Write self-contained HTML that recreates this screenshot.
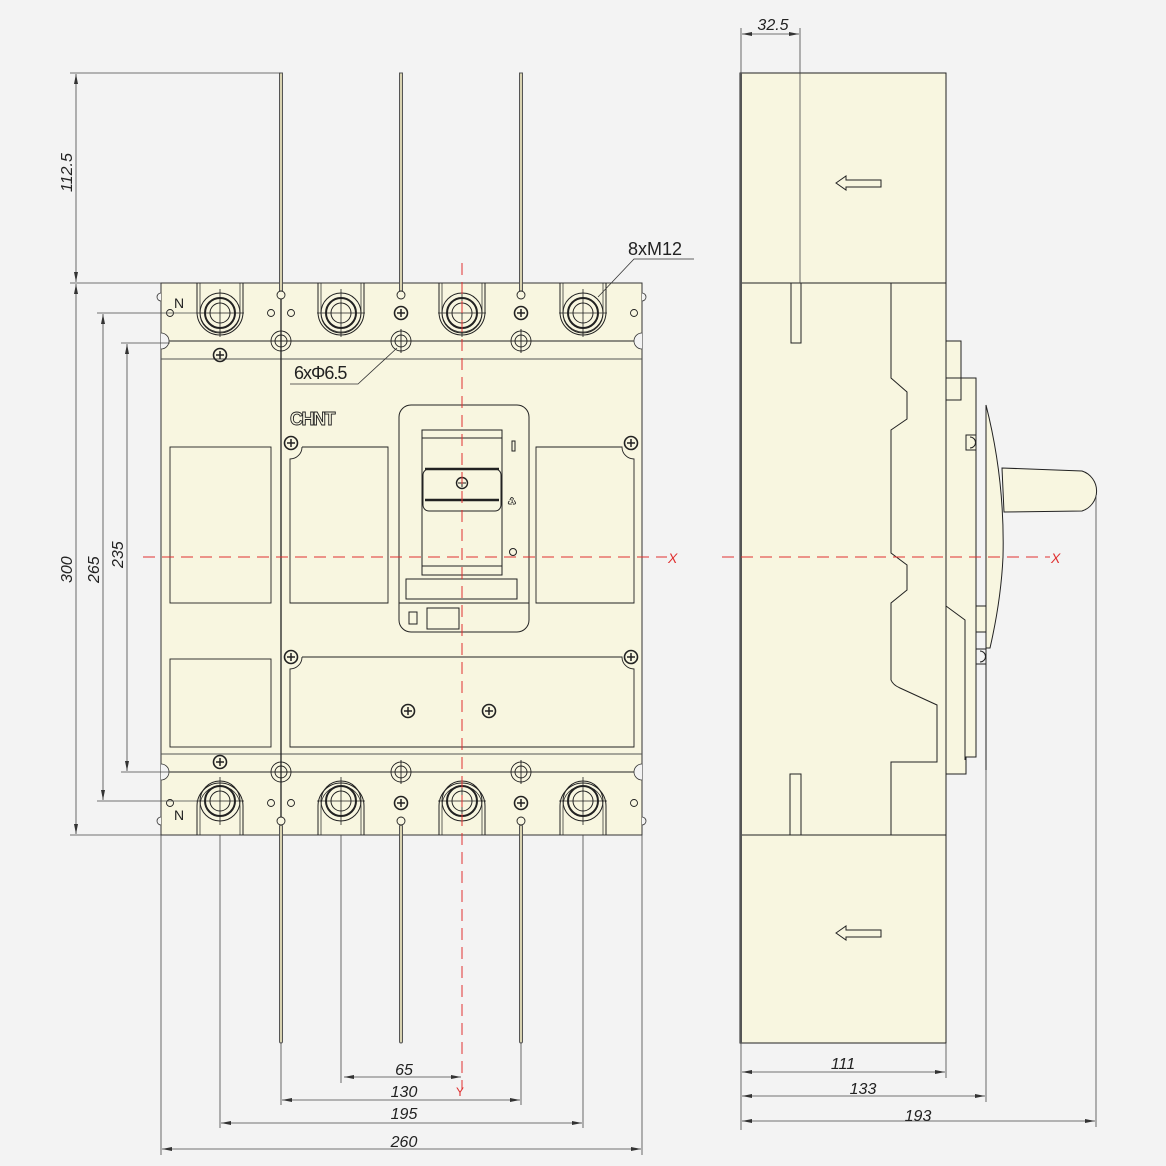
<!DOCTYPE html>
<html><head><meta charset="utf-8"><style>
html,body{margin:0;padding:0;background:#f3f3f3;}
svg{display:block;font-family:"Liberation Sans",sans-serif;}
</style></head><body>
<svg width="1166" height="1166" viewBox="0 0 1166 1166" xmlns="http://www.w3.org/2000/svg">
<defs>
<marker id="ar" viewBox="0 0 10 6" refX="10" refY="3" markerWidth="10" markerHeight="6" orient="auto-start-reverse" markerUnits="userSpaceOnUse"><path d="M0,1 L10,3 L0,5 Z" fill="#333"/></marker>
<g id="nut" fill="none" stroke="#222">
 <circle r="20" stroke-width="1"/>
 <circle r="15" stroke-width="2"/>
 <circle r="10" stroke-width="1"/>
 <line x1="-24" y1="0" x2="24" y2="0" stroke-width="0.8"/>
 <line x1="0" y1="-24" x2="0" y2="24" stroke-width="0.8"/>
</g>
<g id="mh" fill="none" stroke="#222" stroke-width="0.9">
 <circle r="10"/><circle r="6"/>
 <line x1="0" y1="-12" x2="0" y2="12"/>
</g>
<g id="sc" fill="none" stroke="#222">
 <circle r="6.5" stroke-width="1.6"/>
 <path d="M-4,0 H4 M0,-4 V4" stroke-width="1.5"/>
</g>
</defs>

<!-- ===== FRONT VIEW ===== -->
<rect x="161" y="283" width="481" height="552" fill="#f8f6e0" stroke="#333" stroke-width="1"/>
<line x1="161" y1="341" x2="642" y2="341" stroke="#222" stroke-width="1"/>
<line x1="161" y1="359" x2="642" y2="359" stroke="#555" stroke-width="1"/>
<line x1="161" y1="772" x2="642" y2="772" stroke="#222" stroke-width="1"/>
<line x1="161" y1="754" x2="642" y2="754" stroke="#555" stroke-width="1"/>
<line x1="281" y1="283" x2="281" y2="835" stroke="#222" stroke-width="1.3"/>
<g fill="#f3f3f3" stroke="#333" stroke-width="0.8">
<path d="M161,293 a4,4 0 0 0 0,8"/><path d="M642,293 a4,4 0 0 1 0,8"/>
<path d="M161,333 a8,8 0 0 1 0,16"/><path d="M642,333 a8,8 0 0 0 0,16"/>
<path d="M161,764 a8,8 0 0 1 0,16"/><path d="M642,764 a8,8 0 0 0 0,16"/>
<path d="M161,817 a4,4 0 0 0 0,8"/><path d="M642,817 a4,4 0 0 1 0,8"/>
</g>
<g fill="none" stroke="#222">
<path d="M197,283 V312 A23,23 0 0 0 243,312 V283" stroke-width="1"/><path d="M200,283 V312 A20,20 0 0 0 240,312 V283" stroke-width="0.7"/>
<path d="M318,283 V312 A23,23 0 0 0 364,312 V283" stroke-width="1"/><path d="M321,283 V312 A20,20 0 0 0 361,312 V283" stroke-width="0.7"/>
<path d="M439,283 V312 A23,23 0 0 0 485,312 V283" stroke-width="1"/><path d="M442,283 V312 A20,20 0 0 0 482,312 V283" stroke-width="0.7"/>
<path d="M560,283 V312 A23,23 0 0 0 606,312 V283" stroke-width="1"/><path d="M563,283 V312 A20,20 0 0 0 603,312 V283" stroke-width="0.7"/>
<path d="M197,835 V806 A23,23 0 0 1 243,806 V835" stroke-width="1"/><path d="M200,835 V806 A20,20 0 0 1 240,806 V835" stroke-width="0.7"/>
<path d="M318,835 V806 A23,23 0 0 1 364,806 V835" stroke-width="1"/><path d="M321,835 V806 A20,20 0 0 1 361,806 V835" stroke-width="0.7"/>
<path d="M439,835 V806 A23,23 0 0 1 485,806 V835" stroke-width="1"/><path d="M442,835 V806 A20,20 0 0 1 482,806 V835" stroke-width="0.7"/>
<path d="M560,835 V806 A23,23 0 0 1 606,806 V835" stroke-width="1"/><path d="M563,835 V806 A20,20 0 0 1 603,806 V835" stroke-width="0.7"/>
</g>
<use href="#nut" x="220" y="313"/><use href="#nut" x="341" y="313"/><use href="#nut" x="462" y="313"/><use href="#nut" x="583" y="313"/>
<use href="#nut" x="220" y="801"/><use href="#nut" x="341" y="801"/><use href="#nut" x="462" y="801"/><use href="#nut" x="583" y="801"/>
<use href="#mh" x="281" y="341"/><use href="#mh" x="401" y="341"/><use href="#mh" x="521" y="341"/>
<use href="#mh" x="281" y="772"/><use href="#mh" x="401" y="772"/><use href="#mh" x="521" y="772"/>
<use href="#sc" x="401" y="313"/><use href="#sc" x="521" y="313"/><use href="#sc" x="401" y="803"/><use href="#sc" x="521" y="803"/>
<use href="#sc" x="220" y="355"/><use href="#sc" x="220" y="762"/>
<use href="#sc" x="291" y="443"/><use href="#sc" x="631" y="443"/><use href="#sc" x="291" y="657"/><use href="#sc" x="631" y="657"/>
<use href="#sc" x="408" y="711"/><use href="#sc" x="489" y="711"/>
<g fill="none" stroke="#222" stroke-width="0.9">
<circle cx="170" cy="313" r="3.5"/><circle cx="271" cy="313" r="3.5"/><circle cx="291" cy="313" r="3.5"/><circle cx="634" cy="313" r="3.5"/>
<circle cx="170" cy="803" r="3.5"/><circle cx="271" cy="803" r="3.5"/><circle cx="291" cy="803" r="3.5"/><circle cx="634" cy="803" r="3.5"/>
</g>
<g stroke="#555" stroke-width="1" fill="#d8d2b0">
<rect x="279.5" y="73" width="3" height="218"/><rect x="399.5" y="73" width="3" height="218"/><rect x="519.5" y="73" width="3" height="218"/>
<rect x="279.5" y="825" width="3" height="218" rx="1.5"/><rect x="399.5" y="825" width="3" height="218" rx="1.5"/><rect x="519.5" y="825" width="3" height="218" rx="1.5"/>
</g>
<g fill="#f8f6e0" stroke="#222" stroke-width="0.9">
<circle cx="281" cy="295" r="4"/><circle cx="401" cy="295" r="4"/><circle cx="521" cy="295" r="4"/>
<circle cx="281" cy="821" r="4"/><circle cx="401" cy="821" r="4"/><circle cx="521" cy="821" r="4"/>
</g>
<text x="174" y="308" font-size="14" fill="#222">N</text>
<text x="174" y="820" font-size="14" fill="#222">N</text>
<g fill="none" stroke="#222" stroke-width="0.9">
<rect x="170" y="447" width="101" height="156"/>
<rect x="170" y="659" width="101" height="88"/>
<path d="M302,447 H388 V603 H290 V459 A12,12 0 0 0 302,447"/>
<path d="M536,447 H622 A12,12 0 0 0 634,459 V603 H536 Z"/>
<path d="M302,657 H622 A12,12 0 0 0 634,669 V747 H290 V669 A12,12 0 0 0 302,657"/>
</g>
<text x="290" y="425" font-size="18" font-weight="bold" fill="#f8f6e0" stroke="#222" stroke-width="0.9" letter-spacing="-1.5">CHNT</text>
<g fill="none" stroke="#222" stroke-width="1">
<rect x="399" y="405" width="130" height="227" rx="12"/>
<rect x="422" y="430" width="80" height="145"/>
<line x1="422" y1="438" x2="502" y2="438"/>
<line x1="422" y1="566" x2="502" y2="566"/>
<rect x="423" y="469" width="78" height="42" rx="6"/>
<line x1="425" y1="469" x2="499" y2="469" stroke-width="2.5"/>
<line x1="425" y1="500" x2="499" y2="500" stroke-width="2.5"/>
<rect x="406" y="579" width="111" height="20"/>
<line x1="399" y1="603" x2="529" y2="603"/>
<rect x="427" y="608" width="32" height="21"/>
<rect x="409" y="612" width="8" height="12"/>
<rect x="512" y="441" width="3" height="10"/>
<circle cx="513" cy="552" r="3.5"/>
<circle cx="462" cy="483" r="5.5" stroke-width="1.4"/>
<path d="M458,483 H466 M462,479 V487"/>
</g>
<text x="507" y="505" font-size="11" fill="#222">&#x2673;</text>
<line x1="462" y1="263" x2="462" y2="1090" stroke="#e03030" stroke-width="1" stroke-dasharray="12,7"/>
<line x1="143" y1="557" x2="667" y2="557" stroke="#e03030" stroke-width="1" stroke-dasharray="12,7"/>
<text x="668" y="563" font-size="14" font-style="italic" fill="#e03030">X</text>
<text x="456" y="1096" font-size="12" fill="#e03030">Y</text>
<text x="628" y="255" font-size="18" fill="#222">8xM12</text>
<polyline points="694,259 634,259 598,297" fill="none" stroke="#333" stroke-width="0.8"/>
<text x="294" y="379" font-size="18" fill="#222" letter-spacing="-1">6xΦ6.5</text>
<polyline points="290,384 358,384 397,348" fill="none" stroke="#333" stroke-width="0.8"/>

<g stroke="#444" stroke-width="0.8" fill="none">
<line x1="70" y1="73" x2="281" y2="73"/>
<line x1="70" y1="283" x2="161" y2="283"/>
<line x1="70" y1="835" x2="161" y2="835"/>
<line x1="97" y1="313" x2="200" y2="313"/>
<line x1="97" y1="801" x2="200" y2="801"/>
<line x1="121" y1="343" x2="170" y2="343"/>
<line x1="121" y1="772" x2="170" y2="772"/>
<line x1="76" y1="74" x2="76" y2="282" marker-start="url(#ar)" marker-end="url(#ar)"/>
<line x1="76" y1="284" x2="76" y2="834" marker-start="url(#ar)" marker-end="url(#ar)"/>
<line x1="103" y1="314" x2="103" y2="800" marker-start="url(#ar)" marker-end="url(#ar)"/>
<line x1="127" y1="344" x2="127" y2="771" marker-start="url(#ar)" marker-end="url(#ar)"/>
</g>
<g font-size="16" font-style="italic" fill="#222">
<text transform="translate(72,192) rotate(-90)">112.5</text>
<text transform="translate(72,583) rotate(-90)">300</text>
<text transform="translate(99,583) rotate(-90)">265</text>
<text transform="translate(123,568) rotate(-90)">235</text>
</g>
<g stroke="#444" stroke-width="0.8" fill="none">
<line x1="161" y1="835" x2="161" y2="1155"/>
<line x1="642" y1="835" x2="642" y2="1155"/>
<line x1="220" y1="835" x2="220" y2="1128"/>
<line x1="583" y1="835" x2="583" y2="1128"/>
<line x1="281" y1="1043" x2="281" y2="1105"/>
<line x1="521" y1="1043" x2="521" y2="1105"/>
<line x1="341" y1="835" x2="341" y2="1083"/>
<line x1="344" y1="1077" x2="461" y2="1077" marker-start="url(#ar)" marker-end="url(#ar)"/>
<line x1="282" y1="1100" x2="520" y2="1100" marker-start="url(#ar)" marker-end="url(#ar)"/>
<line x1="221" y1="1123" x2="582" y2="1123" marker-start="url(#ar)" marker-end="url(#ar)"/>
<line x1="162" y1="1149" x2="641" y2="1149" marker-start="url(#ar)" marker-end="url(#ar)"/>
</g>
<g font-size="16" font-style="italic" fill="#222" text-anchor="middle">
<text x="404" y="1075">65</text>
<text x="404" y="1097">130</text>
<text x="404" y="1119">195</text>
<text x="404" y="1147">260</text>
</g>

<!-- ===== SIDE VIEW ===== -->
<g stroke="#222" stroke-width="1" fill="#f8f6e0">
<rect x="740" y="73" width="206" height="970"/>
<path d="M946,341 H961 V378 H976 V757 H966 V774 H946 Z"/>
<rect x="946" y="378" width="15" height="22" fill="none"/>
<path d="M986,405 Q1005,480 1003,557 Q1001,600 990,648 L986,648 Z"/>
<path d="M1002,468 L1082,471 A21,21 0 0 1 1082,511 L1004,512 Z"/>
<rect x="976" y="606" width="10" height="26"/>
</g>
<g stroke="#222" stroke-width="1" fill="none">
<line x1="986" y1="405" x2="986" y2="770"/>
<line x1="740" y1="283" x2="946" y2="283"/>
<line x1="740" y1="835" x2="946" y2="835"/>
<path d="M891,283 V378 L907,392 V419 L891,430 V553 L907,565 V590 L891,603 V680 Q893,685 900,688 L937,705 V762 H891 V835"/>
<path d="M946,606 L965,620 V760"/>
<rect x="791" y="283" width="10" height="60"/>
<rect x="790" y="774" width="11" height="61"/>
<path d="M966,435 H976 V450 H966 Z M970,437 a5,5 0 0 1 0,11"/>
<path d="M976,649 H986 V664 H976 Z M980,651 a5,5 0 0 1 0,11"/>
<path d="M836,183 L846,176 V180 H881 V187 H846 V190 Z" fill="#f8f6e0"/>
<path d="M836,933 L846,926 V930 H881 V937 H846 V940 Z" fill="#f8f6e0"/>
</g>
<line x1="741" y1="73" x2="741" y2="1043" stroke="#555" stroke-width="2"/>
<line x1="722" y1="557" x2="1050" y2="557" stroke="#e03030" stroke-width="1" stroke-dasharray="12,7"/>
<text x="1051" y="563" font-size="14" font-style="italic" fill="#e03030">X</text>
<g stroke="#444" stroke-width="0.8" fill="none">
<line x1="741" y1="28" x2="741" y2="73"/>
<line x1="800" y1="28" x2="800" y2="283"/>
<line x1="742" y1="34" x2="799" y2="34" marker-start="url(#ar)" marker-end="url(#ar)"/>
<line x1="741" y1="1043" x2="741" y2="1130"/>
<line x1="946" y1="1043" x2="946" y2="1078"/>
<line x1="986" y1="770" x2="986" y2="1102"/>
<line x1="1096" y1="495" x2="1096" y2="1127"/>
<line x1="742" y1="1072" x2="945" y2="1072" marker-start="url(#ar)" marker-end="url(#ar)"/>
<line x1="742" y1="1096" x2="985" y2="1096" marker-start="url(#ar)" marker-end="url(#ar)"/>
<line x1="742" y1="1121" x2="1095" y2="1121" marker-start="url(#ar)" marker-end="url(#ar)"/>
</g>
<g font-size="16" font-style="italic" fill="#222" text-anchor="middle">
<text x="773" y="30">32.5</text>
<text x="843" y="1069">111</text>
<text x="863" y="1094">133</text>
<text x="918" y="1121">193</text>
</g>
</svg>
</body></html>
